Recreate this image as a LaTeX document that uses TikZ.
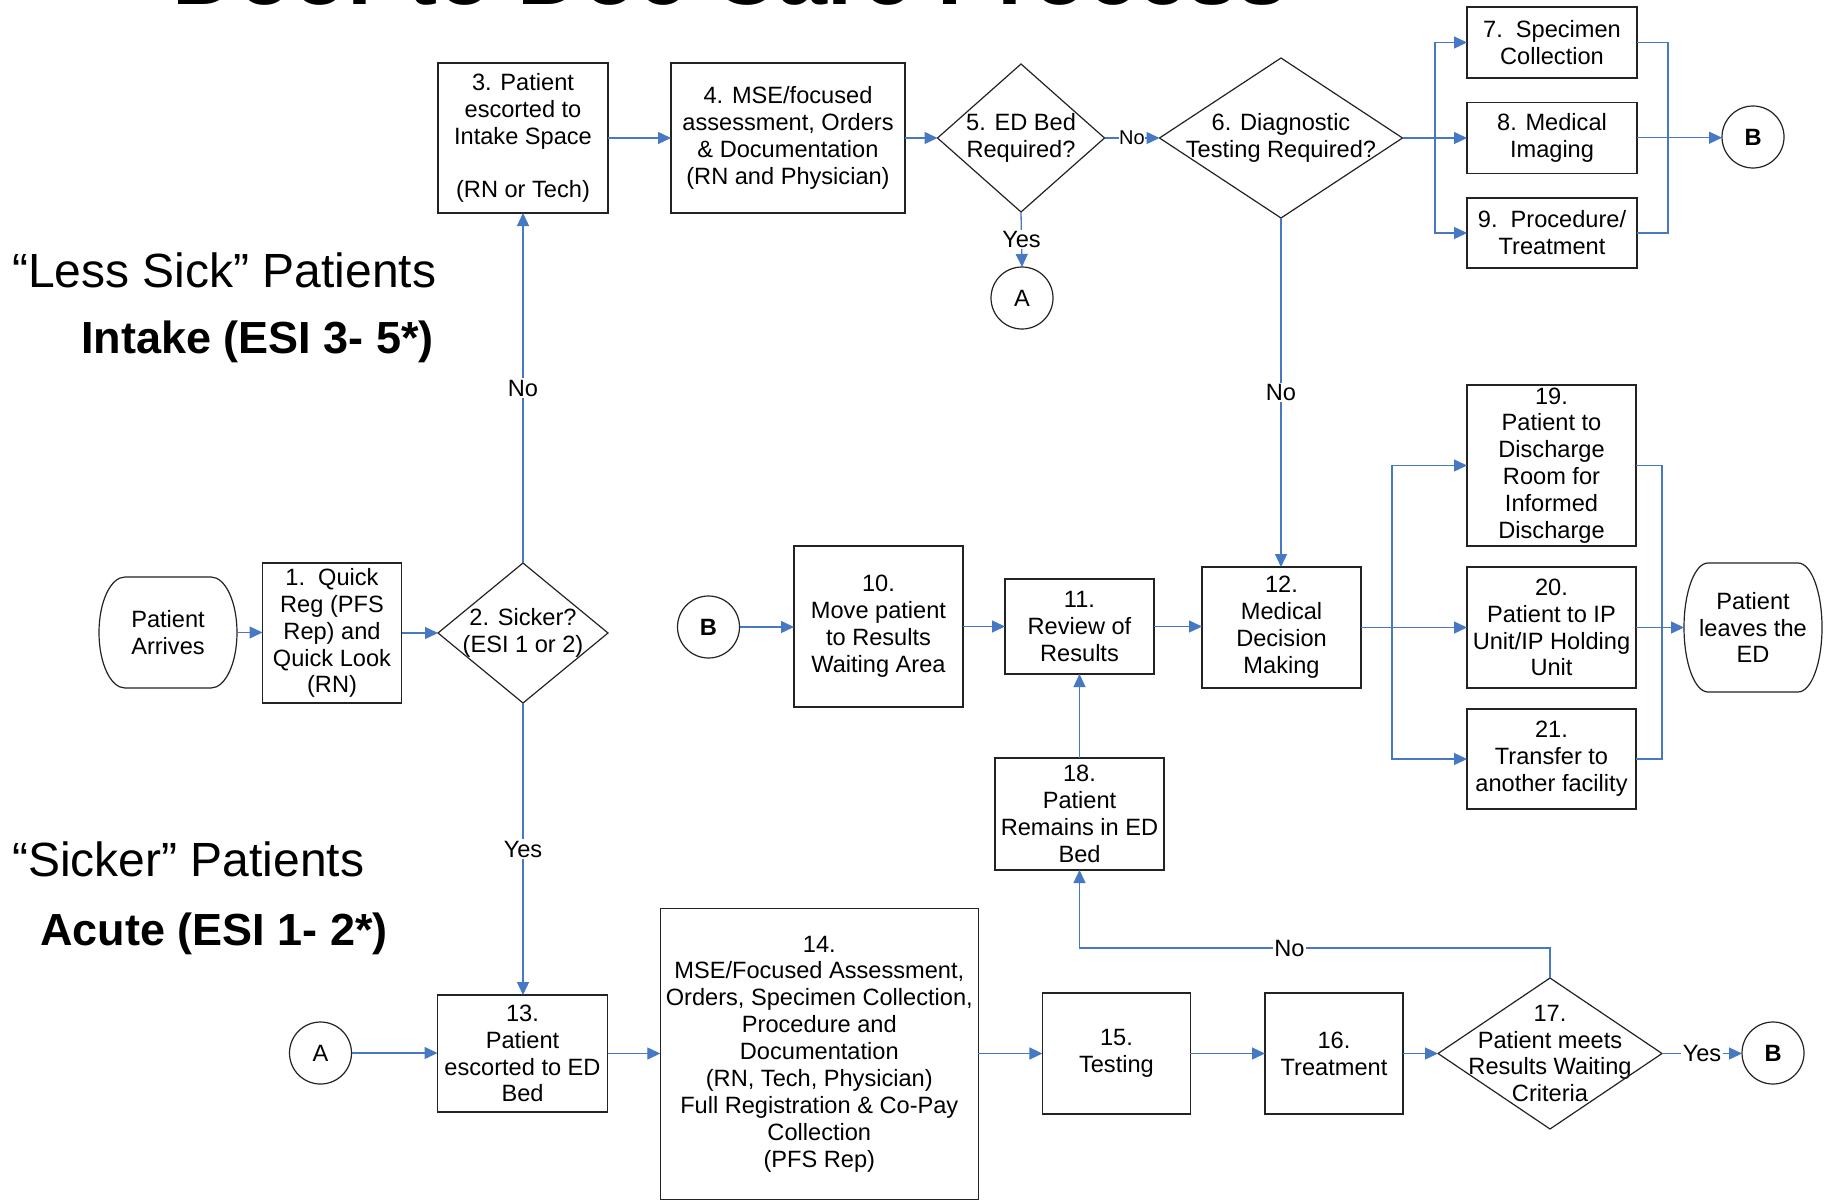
\documentclass[tikz,border=0pt]{standalone}
\usepackage{fontspec}
\setmainfont{Liberation Sans}
\usetikzlibrary{arrows.meta,calc}
\definecolor{conncol}{RGB}{70,120,195}
\definecolor{edgecol}{RGB}{35,35,35}
% terminator outline around a (borderless) node: #1 name, #2 corner x-radius, #3 half height
\newcommand{\termshape}[3]{%
\draw[boxline] ($(#1.north west)+(#2,0)$) -- ($(#1.north east)+(-#2,0)$)
 .. controls ($(#1.north east)+({-0.4477*#2},0)$) and ($(#1.east)+(0,{-0.5523*#3})$) .. (#1.east)
 .. controls ($(#1.east)+(0,{0.5523*#3})$) and ($(#1.south east)+({-0.4477*#2},0)$) .. ($(#1.south east)+(-#2,0)$)
 -- ($(#1.south west)+(#2,0)$)
 .. controls ($(#1.south west)+({0.4477*#2},0)$) and ($(#1.west)+(0,{0.5523*#3})$) .. (#1.west)
 .. controls ($(#1.west)+(0,{-0.5523*#3})$) and ($(#1.north west)+({0.4477*#2},0)$) .. cycle;}
% decision diamond: #1 name, #2 centre, #3 width, #4 height, #5 text
\newcommand{\dianode}[5]{%
\node[diabox, minimum width=#3pt, minimum height=#4pt] (#1) at (#2) {};
\node[txt] (#1t) at (#1) {#5};
\draw[boxline] (#1.north) -- (#1.east) -- (#1.south) -- (#1.west) -- cycle;}
\begin{document}
\begin{tikzpicture}[x=1pt,y=-1pt,
 txt/.style={align=center, font=\fontsize{23.6}{26.9}\selectfont, inner sep=0pt},
 box/.style={txt, draw=edgecol, line width=1.2pt, inner sep=1pt, outer sep=0pt},
 diabox/.style={draw=none, rectangle, inner sep=0pt, outer sep=0pt},
 boxline/.style={draw=edgecol, line width=1.2pt},
 circ/.style={circle, draw=edgecol, line width=1.2pt, minimum size=62pt, inner sep=0pt, outer sep=0pt, font=\fontsize{23.6}{26.9}\selectfont},
 conn/.style={draw=conncol, line width=1.3pt, -{Triangle[length=13pt,width=12pt]}},
 plain/.style={draw=conncol, line width=1.3pt},
 lbl/.style={fill=white, inner sep=1.5pt, font=\fontsize{23.6}{26.9}\selectfont},
 big/.style={inner sep=0pt, font=\fontsize{48}{56}\selectfont},
 bigb/.style={inner sep=0pt, font=\fontsize{45}{52}\selectfont\bfseries}]
\useasboundingbox (0,0) rectangle (1827,1201);
\fill[white] (0,0) rectangle (1827,1201);

% title, cut off by the top edge
\begin{scope}
\clip (0,0) rectangle (1827,1201);
\node[anchor=base west, inner sep=0pt, font=\fontsize{90}{100}\selectfont\bfseries] (title) at (172,4.5) {Door to Doc Care Process};
\end{scope}

% side labels
\node[big, anchor=base west] (lesssick) at (12,287) {“Less Sick” Patients};
\node[bigb, anchor=base east] (intake) at (434,353) {Intake (ESI 3- 5*)};
\node[big, anchor=base west] (sicker) at (12,876.7) {“Sicker” Patients};
\node[bigb, anchor=base west] (acute) at (40,945) {Acute (ESI 1- 2*)};

% connectors' circles
\node[circ] (Btop) at (1753,137) {\bfseries B};
\node[circ] (Atop) at (1022,298) {A};
\node[circ] (Bmid) at (708.5,627) {\bfseries B};
\node[circ] (Abot) at (320.5,1053) {A};
\node[circ] (Bbot) at (1773,1053) {\bfseries B};

% top row
\node[box, minimum width=170pt, minimum height=150pt] (b3) at (523,138) {3. Patient\\escorted to\\Intake Space\\\mbox{}\\(RN or Tech)};
\node[box, minimum width=234pt, minimum height=150pt] (b4) at (788,138) {4. MSE/focused\\assessment, Orders\\\& Documentation\\(RN and Physician)};
\dianode{d5}{1021,138}{167}{148}{5. ED Bed\\Required?}
\dianode{d6}{1281,138}{243}{160}{6. Diagnostic\\Testing Required?}
\node[box, minimum width=170pt, minimum height=71pt] (b7) at (1552,42.5) {7.\ \ Specimen\\Collection};
\node[box, minimum width=170pt, minimum height=71pt] (b8) at (1552,137.7) {8. Medical\\Imaging};
\node[box, minimum width=170pt, minimum height=70pt] (b9) at (1552,233) {9.\ \ Procedure/\\Treatment};

% middle row
\node[diabox, minimum width=138pt, minimum height=111pt] (arr) at (168,632.5) {};
\node[txt] (arrt) at (arr) {Patient\\Arrives};
\termshape{arr}{26}{55.5}
\node[box, minimum width=139pt, minimum height=140pt] (b1) at (332,633) {1.\ \ Quick\\Reg (PFS\\Rep) and\\Quick Look\\(RN)};
\dianode{d2}{523,633}{170}{140}{2. Sicker?\\(ESI 1 or 2)}
\node[box, minimum width=169pt, minimum height=161pt] (b10) at (878.5,626.5) {10.\\Move patient\\to Results\\Waiting Area};
\node[box, minimum width=149pt, minimum height=95pt] (b11) at (1079.5,626.5) {11.\\Review of\\Results};
\node[box, minimum width=159pt, minimum height=121pt] (b12) at (1281.5,627.5) {12.\\Medical\\Decision\\Making};
\node[box, minimum width=169pt, minimum height=161pt] (b19) at (1551.5,465.5) {19.\\Patient to\\Discharge\\Room for\\Informed\\Discharge};
\node[box, minimum width=169pt, minimum height=121pt] (b20) at (1551.5,627.5) {20.\\Patient to IP\\Unit/IP Holding\\Unit};
\node[box, minimum width=169pt, minimum height=100pt] (b21) at (1551.5,759) {21.\\Transfer to\\another facility};
\node[diabox, minimum width=138pt, minimum height=129pt] (led) at (1753,627.5) {};
\node[txt] (ledt) at (led) {Patient\\leaves the\\ED};
\termshape{led}{24}{64.5}
\node[box, minimum width=169pt, minimum height=112pt] (b18) at (1079.5,814) {18.\\Patient\\Remains in ED\\Bed};

% bottom row
\node[box, minimum width=170pt, minimum height=117pt] (b13) at (522.5,1053.5) {13.\\Patient\\escorted to ED\\Bed};
\node[box, minimum width=318pt, minimum height=291pt] (b14) at (819.3,1054) {14.\\MSE/Focused Assessment,\\Orders, Specimen Collection,\\Procedure and\\Documentation\\(RN, Tech, Physician)\\Full Registration \& Co-Pay\\Collection\\(PFS Rep)};
\node[box, minimum width=148pt, minimum height=121pt] (b15) at (1116.4,1053.5) {15.\\Testing};
\node[box, minimum width=138pt, minimum height=121pt] (b16) at (1334,1053.5) {16.\\Treatment};
\dianode{d17}{1550,1053.5}{224}{151}{17.\\Patient meets\\Results Waiting\\Criteria}

% branch and merge points
\coordinate (br1) at (1435,138);
\coordinate (mg1) at (1668,137.7);
\coordinate (br2) at (1392,627.5);
\coordinate (mg2) at (1662,627.5);

% connectors
\draw[conn] (arr.east) -- (arr.east -| b1.west);
\draw[conn] (b1.east) -- (b1.east -| d2.west);
\draw[conn] (d2.north) -- node[lbl]{No} (d2.north |- b3.south);
\draw[conn] (d2.south) -- node[lbl]{Yes} (d2.south |- b13.north);
\draw[conn] (b3.east) -- (b3.east -| b4.west);
\draw[conn] (b4.east) -- (d5.west);
\draw[conn] (d5.east) -- node[lbl, inner sep=0.5pt, font=\fontsize{20}{22}\selectfont]{No} (d6.west);
\draw[conn] (d5.south) -- node[lbl]{Yes} (Atop.north);
\draw[conn] (d6.east) -- (d6.east -| b8.west);
\draw[conn] (br1) |- (b7.west);
\draw[conn] (br1) |- (b9.west);
\draw[plain] (b7.east) -| (mg1);
\draw[plain] (b9.east) -| (mg1);
\draw[conn] (b8.east) -- (b8.east -| Btop.west);
\draw[conn] (d6.south) -- node[lbl]{No} (d6.south |- b12.north);

\draw[conn] (Bmid.east) -- (Bmid.east -| b10.west);
\draw[conn] (b10.east) -- (b10.east -| b11.west);
\draw[conn] (b11.east) -- (b11.east -| b12.west);
\draw[conn] (b12.east) -- (b12.east -| b20.west);
\draw[conn] (br2) |- (b19.west);
\draw[conn] (br2) |- (b21.west);
\draw[plain] (b19.east) -| (mg2);
\draw[plain] (b21.east) -| (mg2);
\draw[conn] (b20.east) -- (b20.east -| led.west);
\draw[conn] (b18.north) -- (b11.south);

\draw[conn] (Abot.east) -- (Abot.east -| b13.west);
\draw[conn] (b13.east) -- (b13.east -| b14.west);
\draw[conn] (b14.east |- b15.west) -- (b15.west);
\draw[conn] (b15.east) -- (b16.west);
\draw[conn] (b16.east) -- (d17.west);
\draw[conn] (d17.east) -- node[lbl]{Yes} (d17.east -| Bbot.west);
\draw[conn] (d17.north) -- ++(0,-30) -| node[lbl, pos=0.277]{No} (b18.south);
\end{tikzpicture}
\end{document}
